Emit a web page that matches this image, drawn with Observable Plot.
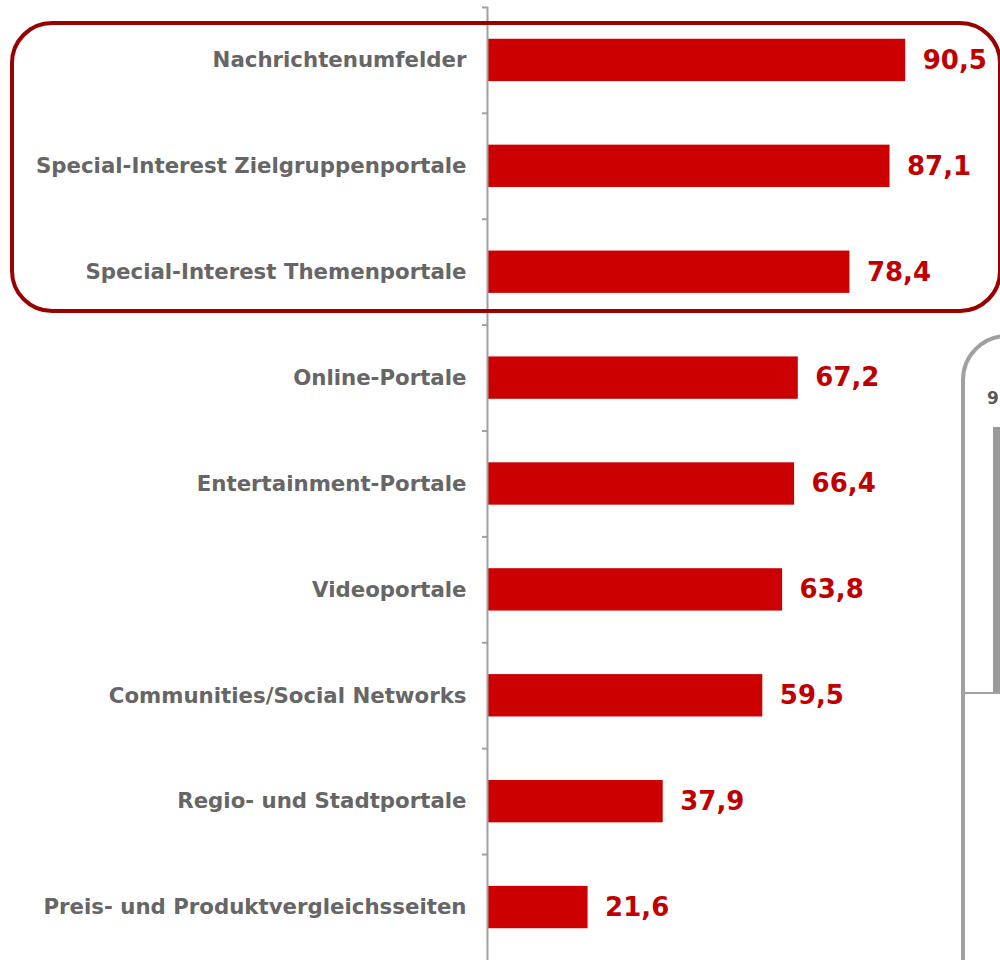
<!DOCTYPE html>
<html>
<head>
<meta charset="utf-8">
<script src="https://cdn.jsdelivr.net/npm/d3@7"></script>
<script src="https://cdn.jsdelivr.net/npm/@observablehq/plot@0.6"></script>
<style>
  html, body { margin: 0; padding: 0; background: #fff; overflow: hidden; }
  #wrap { position: relative; width: 1000px; height: 960px; overflow: hidden; }
  #wrap svg { position: absolute; left: 0; top: 0; overflow: visible; }
  .hl { position: absolute; left: 10px; top: 21px; width: 992px; height: 292px;
        box-sizing: border-box; border: 4px solid #990000; border-radius: 42px; }
  .side { position: absolute; left: 961px; top: 334px; width: 200px; height: 700px;
          box-sizing: border-box; border: 4px solid #a0a0a0; border-radius: 46px; }
  .side-num { position: absolute; left: 987px; top: 388px; font: bold 17px "DejaVu Sans", sans-serif; color: #595959; }
  .side-bar { position: absolute; left: 993px; top: 427px; width: 10px; height: 266px; background: #9a9a9a; }
  .side-line { position: absolute; left: 965px; top: 692px; width: 40px; height: 2px; background: #a0a0a0; }
</style>
</head>
<body>
<div id="wrap">
  <div class="side"></div>
  <div class="side-num">9</div>
  <div class="side-bar"></div>
  <div class="side-line"></div>
</div>
<script>
const categories = [
  "Nachrichtenumfelder",
  "Special-Interest Zielgruppenportale",
  "Special-Interest Themenportale",
  "Online-Portale",
  "Entertainment-Portale",
  "Videoportale",
  "Communities/Social Networks",
  "Regio- und Stadtportale",
  "Preis- und Produktvergleichsseiten"
];
const values = [90.5, 87.1, 78.4, 67.2, 66.4, 63.8, 59.5, 37.9, 21.6];
const valueLabels = ["90,5", "87,1", "78,4", "67,2", "66,4", "63,8", "59,5", "37,9", "21,6"];

const data = categories.map((c, i) => ({category: c, value: values[i], label: valueLabels[i]}));

const font = "'DejaVu Sans', Verdana, sans-serif";

const chart = Plot.plot({
  width: 1000,
  height: 960,
  marginLeft: 488,
  marginRight: 51,
  marginTop: 7,
  marginBottom: 0,
  style: {fontFamily: font, background: "transparent"},
  x: {domain: [0, 100], axis: null},
  y: {domain: categories, paddingInner: 0.6, paddingOuter: 0.3, round: false, axis: null},
  marks: [
    Plot.barX(data, {x: "value", y: "category", fill: "#cc0000"}),
    Plot.axisY({tickSize: 6, tickFormat: () => "", label: null, stroke: "#a0a0a0", strokeWidth: 2, dy: -53, anchor: "left"}),
    Plot.ruleX([0], {stroke: "#a0a0a0", strokeWidth: 2, dx: -1}),
    Plot.text(data, {x: 0, y: "category", text: "category", textAnchor: "end", dx: -22,
      fill: "#666666", fontSize: 21.3, fontWeight: "bold"}),
    Plot.text(data, {x: "value", y: "category", text: "label", textAnchor: "start", dx: 17,
      fill: "#c00000", fontSize: 26, fontWeight: "bold"})
  ]
});

const wrap = document.getElementById("wrap");
wrap.insertBefore(chart, wrap.firstChild);
const hl = document.createElement("div");
hl.className = "hl";
wrap.appendChild(hl);
</script>
</body>
</html>
